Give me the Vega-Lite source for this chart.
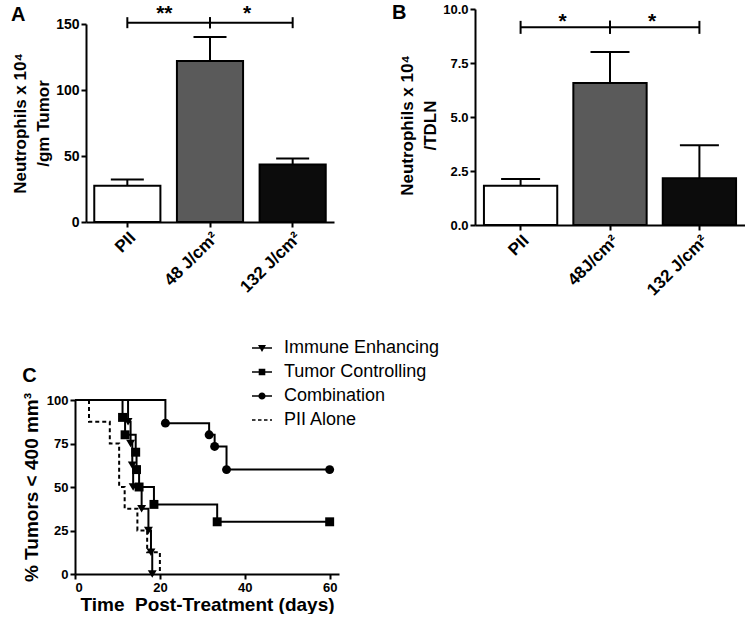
{
  "$schema": "https://vega.github.io/schema/vega-lite/v6.json",
  "background": "white",
  "padding": {"left": 10, "top": 2, "right": 0, "bottom": 0},
  "datasets": {
    "tumor": [
      {"group": "PII", "mean": 27.4, "upper": 32.2},
      {"group": "48 J/cm²", "mean": 121.9, "upper": 140.1},
      {"group": "132 J/cm²", "mean": 43.6, "upper": 48.2}
    ],
    "tdln": [
      {"group": "PII", "mean": 1.82, "upper": 2.13},
      {"group": "48J/cm²", "mean": 6.57, "upper": 8.01},
      {"group": "132 J/cm²", "mean": 2.16, "upper": 3.69}
    ],
    "brackets_a": [
      {"from": "PII", "to": "48 J/cm²", "label": "**"},
      {"from": "48 J/cm²", "to": "132 J/cm²", "label": "*"}
    ],
    "brackets_b": [
      {"from": "PII", "to": "48J/cm²", "label": "*"},
      {"from": "48J/cm²", "to": "132 J/cm²", "label": "*"}
    ],
    "survival": [
      {"group": "Immune Enhancing", "day": 0, "pct": 100},
      {"group": "Immune Enhancing", "day": 12.5, "pct": 87.5},
      {"group": "Immune Enhancing", "day": 13.1, "pct": 75},
      {"group": "Immune Enhancing", "day": 13.5, "pct": 62.5},
      {"group": "Immune Enhancing", "day": 13.7, "pct": 50},
      {"group": "Immune Enhancing", "day": 15.7, "pct": 37.5},
      {"group": "Immune Enhancing", "day": 17.3, "pct": 25},
      {"group": "Immune Enhancing", "day": 17.9, "pct": 12.5},
      {"group": "Immune Enhancing", "day": 18.2, "pct": 0},
      {"group": "Tumor Controlling", "day": 0, "pct": 100},
      {"group": "Tumor Controlling", "day": 11.2, "pct": 90},
      {"group": "Tumor Controlling", "day": 11.8, "pct": 80},
      {"group": "Tumor Controlling", "day": 14.3, "pct": 70},
      {"group": "Tumor Controlling", "day": 14.5, "pct": 60},
      {"group": "Tumor Controlling", "day": 15.1, "pct": 50},
      {"group": "Tumor Controlling", "day": 18.6, "pct": 40},
      {"group": "Tumor Controlling", "day": 33.5, "pct": 30},
      {"group": "Tumor Controlling", "day": 60, "pct": 30},
      {"group": "Combination", "day": 0, "pct": 100},
      {"group": "Combination", "day": 21.3, "pct": 86.7},
      {"group": "Combination", "day": 31.6, "pct": 80},
      {"group": "Combination", "day": 32.9, "pct": 73.3},
      {"group": "Combination", "day": 35.7, "pct": 60},
      {"group": "Combination", "day": 60, "pct": 60},
      {"group": "PII Alone", "day": 0, "pct": 100},
      {"group": "PII Alone", "day": 3.3, "pct": 87.5},
      {"group": "PII Alone", "day": 8.2, "pct": 75},
      {"group": "PII Alone", "day": 10.4, "pct": 50},
      {"group": "PII Alone", "day": 11.7, "pct": 37.5},
      {"group": "PII Alone", "day": 14.7, "pct": 25},
      {"group": "PII Alone", "day": 17.0, "pct": 12.5},
      {"group": "PII Alone", "day": 20.0, "pct": 0}
    ]
  },
  "vconcat": [
    {
      "hconcat": [
        {
          "width": 248,
          "height": 213,
          "title": {"text": "A", "offset": -22},
          "data": {"name": "tumor"},
          "layer": [
            {
              "mark": {"type": "bar", "stroke": "black", "strokeWidth": 2},
              "encoding": {
                "x": {
                  "field": "group", "type": "nominal", "sort": null,
                  "scale": {"domain": ["PII", "48 J/cm²", "132 J/cm²"], "paddingInner": 0.2, "paddingOuter": 0.1},
                  "axis": {"title": null, "labelAngle": -45, "labelFontSize": 17, "labelPadding": 2}
                },
                "y": {
                  "field": "mean", "type": "quantitative",
                  "scale": {"domain": [0, 150], "nice": false, "range": [213, 15]},
                  "axis": {
                    "values": [0, 50, 100, 150], "labelFontSize": 14,
                    "title": ["Neutrophils x 10⁴", "/gm Tumor"], "titleFontSize": 17, "titleLineHeight": 23,
                    "titleBaseline": "alphabetic", "titleX": -61
                  }
                },
                "fill": {
                  "field": "group", "type": "nominal",
                  "scale": {"domain": ["PII", "48 J/cm²", "132 J/cm²"], "range": ["#ffffff", "#5a5a5a", "#0c0c0c"]},
                  "legend": null
                }
              }
            },
            {
              "mark": {"type": "rule", "strokeWidth": 2, "color": "black"},
              "encoding": {
                "x": {"field": "group", "type": "nominal"},
                "y": {"field": "mean", "type": "quantitative"},
                "y2": {"field": "upper"}
              }
            },
            {
              "mark": {"type": "tick", "size": 33, "thickness": 2, "color": "black", "opacity": 1},
              "encoding": {
                "x": {"field": "group", "type": "nominal"},
                "y": {"field": "upper", "type": "quantitative"}
              }
            },
            {
              "data": {"name": "brackets_a"},
              "mark": {"type": "rule", "strokeWidth": 2, "color": "black"},
              "encoding": {
                "x": {"field": "from", "type": "nominal"},
                "x2": {"field": "to"},
                "y": {"datum": 151, "type": "quantitative"}
              }
            },
            {
              "data": {"name": "brackets_a"},
              "transform": [{"fold": ["from", "to"], "as": ["end", "cat"]}],
              "mark": {"type": "tick", "orient": "vertical", "size": 11, "thickness": 2, "color": "black", "opacity": 1},
              "encoding": {
                "x": {"field": "cat", "type": "nominal"},
                "y": {"datum": 151, "type": "quantitative"}
              }
            },
            {
              "data": {"name": "brackets_a"},
              "mark": {"type": "text", "fontSize": 21, "fontWeight": "bold", "dx": 37, "dy": -3, "baseline": "alphabetic", "color": "black"},
              "encoding": {
                "x": {"field": "from", "type": "nominal"},
                "y": {"datum": 151, "type": "quantitative"},
                "text": {"field": "label"}
              }
            }
          ]
        },
        {
          "width": 270,
          "height": 216,
          "title": {"text": "B", "offset": -20, "dx": -6},
          "data": {"name": "tdln"},
          "layer": [
            {
              "mark": {"type": "bar", "stroke": "black", "strokeWidth": 2},
              "encoding": {
                "x": {
                  "field": "group", "type": "nominal", "sort": null,
                  "scale": {"domain": ["PII", "48J/cm²", "132 J/cm²"], "paddingInner": 0.18, "paddingOuter": 0.1},
                  "axis": {"title": null, "labelAngle": -45, "labelFontSize": 17, "labelPadding": 2}
                },
                "y": {
                  "field": "mean", "type": "quantitative",
                  "scale": {"domain": [0, 10], "nice": false},
                  "axis": {
                    "values": [0, 2.5, 5, 7.5, 10], "format": ".1f",
                    "title": ["Neutrophils x 10⁴", "/TDLN"], "titleFontSize": 17, "titleLineHeight": 23,
                    "titleBaseline": "alphabetic", "titleX": -63, "titleY": 116
                  }
                },
                "fill": {
                  "field": "group", "type": "nominal",
                  "scale": {"domain": ["PII", "48J/cm²", "132 J/cm²"], "range": ["#ffffff", "#5a5a5a", "#0c0c0c"]},
                  "legend": null
                }
              }
            },
            {
              "mark": {"type": "rule", "strokeWidth": 2, "color": "black"},
              "encoding": {
                "x": {"field": "group", "type": "nominal"},
                "y": {"field": "mean", "type": "quantitative"},
                "y2": {"field": "upper"}
              }
            },
            {
              "mark": {"type": "tick", "size": 39, "thickness": 2, "color": "black", "opacity": 1},
              "encoding": {
                "x": {"field": "group", "type": "nominal"},
                "y": {"field": "upper", "type": "quantitative"}
              }
            },
            {
              "data": {"name": "brackets_b"},
              "mark": {"type": "rule", "strokeWidth": 2, "color": "black"},
              "encoding": {
                "x": {"field": "from", "type": "nominal"},
                "x2": {"field": "to"},
                "y": {"datum": 9.15, "type": "quantitative"}
              }
            },
            {
              "data": {"name": "brackets_b"},
              "transform": [{"fold": ["from", "to"], "as": ["end", "cat"]}],
              "mark": {"type": "tick", "orient": "vertical", "size": 13, "thickness": 2, "color": "black", "opacity": 1},
              "encoding": {
                "x": {"field": "cat", "type": "nominal"},
                "y": {"datum": 9.15, "type": "quantitative"}
              }
            },
            {
              "data": {"name": "brackets_b"},
              "mark": {"type": "text", "fontSize": 21, "fontWeight": "bold", "dx": 42, "dy": 1, "baseline": "alphabetic", "color": "black"},
              "encoding": {
                "x": {"field": "from", "type": "nominal"},
                "y": {"datum": 9.15, "type": "quantitative"},
                "text": {"field": "label"}
              }
            }
          ]
        }
      ],
      "spacing": 57,
      "resolve": {"scale": {"fill": "independent"}}
    },
    {
      "width": 253,
      "height": 174,
      "title": {"text": "C", "offset": -48},
      "data": {"name": "survival"},
      "layer": [
        {
          "mark": {"type": "line", "interpolate": "step-after", "strokeWidth": 2, "color": "black"},
          "encoding": {
            "x": {
              "field": "day", "type": "quantitative",
              "scale": {"domain": [0, 62.2], "nice": false, "range": [-11, 253]},
              "axis": {"values": [0, 20, 40, 60], "labelFontSize": 13, "title": "Time\u00a0\u00a0Post-Treatment (days)", "titleFontSize": 19, "titlePadding": 1}
            },
            "y": {
              "field": "pct", "type": "quantitative",
              "scale": {"domain": [0, 100], "nice": false},
              "axis": {"values": [0, 25, 50, 75, 100], "offset": 11, "labelFontSize": 13, "title": "% Tumors < 400 mm³", "titleFontSize": 19, "titlePadding": 5}
            },
            "strokeDash": {
              "field": "group", "type": "nominal",
              "scale": {"domain": ["Immune Enhancing", "Tumor Controlling", "Combination", "PII Alone"], "range": [[1, 0], [1, 0], [1, 0], [4, 3]]},
              "legend": null
            }
          }
        },
        {
          "transform": [{"filter": "datum.day > 0 && datum.group != 'PII Alone'"}],
          "mark": {"type": "point", "filled": true, "color": "black", "opacity": 1, "size": 80},
          "encoding": {
            "x": {"field": "day", "type": "quantitative"},
            "y": {"field": "pct", "type": "quantitative"},
            "shape": {
              "field": "group", "type": "nominal",
              "scale": {"domain": ["Immune Enhancing", "Tumor Controlling", "Combination"], "range": ["triangle-down", "square", "circle"]},
              "legend": null
            }
          }
        },
        {
          "mark": {"type": "point", "filled": true, "color": "black", "opacity": 0},
          "encoding": {
            "x": {"field": "day", "type": "quantitative"},
            "y": {"field": "pct", "type": "quantitative"},
            "shape": {
              "field": "group", "type": "nominal",
              "scale": {
                "domain": ["Immune Enhancing", "Tumor Controlling", "Combination", "PII Alone"],
                "range": [
                  "M-1,-0.08H1V0.08H-1ZM-0.4,-0.3H0.4L0,0.4Z",
                  "M-1,-0.08H1V0.08H-1ZM-0.33,-0.33H0.33V0.33H-0.33Z",
                  "M-1,-0.08H1V0.08H-1ZM0.36,0A0.36,0.36,0,1,1,-0.36,0A0.36,0.36,0,1,1,0.36,0Z",
                  "M-1,-0.08H-0.65V0.08H-1ZM-0.4,-0.08H-0.05V0.08H-0.4ZM0.2,-0.08H0.55V0.08H0.2ZM0.8,-0.08H1V0.08H0.8Z"
                ]
              },
              "legend": {
                "orient": "none", "legendX": 166, "legendY": -62, "title": null, "padding": 0,
                "symbolSize": 400, "symbolStrokeWidth": 0, "symbolFillColor": "black", "symbolOpacity": 1,
                "labelFontSize": 18, "labelColor": "black", "labelOffset": 12, "rowPadding": 5, "labelFont": "Liberation Sans"
              }
            }
          }
        }
      ],
      "resolve": {"scale": {"shape": "independent"}}
    }
  ],
  "spacing": 39,
  "config": {
    "font": "Liberation Sans",
    "view": {"stroke": null},
    "axis": {
      "grid": false, "domainColor": "black", "domainWidth": 2, "tickColor": "black", "tickWidth": 2, "tickSize": 5,
      "labelColor": "black", "labelFontWeight": "bold", "labelFontSize": 13, "labelFont": "Liberation Sans",
      "titleColor": "black", "titleFontWeight": "bold", "titleFontSize": 16, "titleFont": "Liberation Sans"
    },
    "title": {"fontSize": 20, "fontWeight": "bold", "color": "black", "anchor": "start", "frame": "bounds"}
  }
}
